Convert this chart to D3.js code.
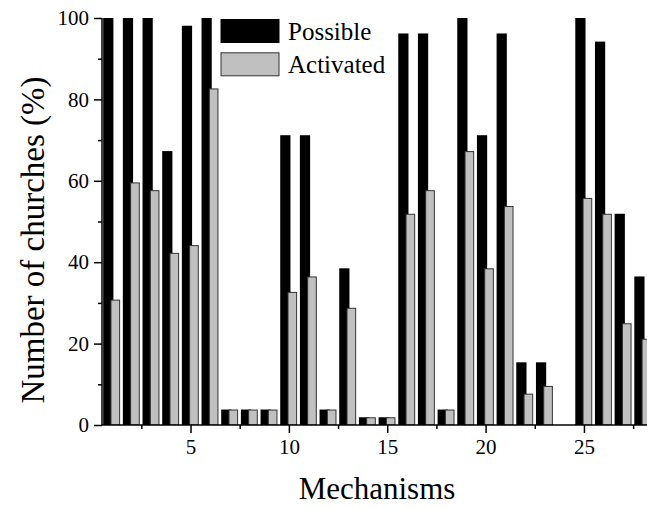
<!DOCTYPE html>
<html>
<head>
<meta charset="utf-8">
<script src="https://cdn.jsdelivr.net/npm/d3@7"></script>
<style>
html,body{margin:0;padding:0;background:#fff;overflow:hidden;}
svg text{font-family:"Liberation Serif","Times New Roman",Times,serif !important;}
</style>
</head>
<body>
<svg id="chart" width="647" height="508"></svg>
<script>
const mechanisms = d3.range(1, 29);
const possible = [100,100,100,67.3,98.1,100,3.8,3.8,3.8,71.2,71.2,3.8,38.5,1.9,1.9,96.2,96.2,3.8,100,71.2,96.2,15.4,15.4,0,100,94.2,51.9,36.5];
const activated = [30.8,59.6,57.7,42.3,44.2,82.7,3.8,3.8,3.8,32.7,36.5,3.8,28.8,1.9,1.9,51.9,57.7,3.8,67.3,38.5,53.8,7.7,9.6,0,55.8,51.9,25.0,21.2];
const seriesNames = ["Possible", "Activated"];
const yTicks = [0,20,40,60,80,100];
const yMinorTicks = [10,30,50,70,90];
const xTicks = [5,10,15,20,25];
const xMinorTicks = [2.5,7.5,12.5,17.5,22.5,27.5];

const serif = '"Liberation Serif","Times New Roman",Times,serif';
const svg = d3.select("#chart");
const x = d3.scaleLinear().domain([0.5, 28.5]).range([102, 652.8]);
const y = d3.scaleLinear().domain([0, 100]).range([425, 18]);

svg.append("defs").append("clipPath").attr("id","plotclip")
  .append("rect").attr("x",102).attr("y",18).attr("width",560).attr("height",407);

const g = svg.append("g").attr("clip-path","url(#plotclip)");

// Possible (black) bars
g.selectAll("rect.pos").data(mechanisms).enter().append("rect")
  .attr("class","pos")
  .attr("x", (d) => x(d - 0.44))
  .attr("width", (d) => x(d + 0.08) - x(d - 0.44))
  .attr("y", (d,i) => y(possible[i]))
  .attr("height", (d,i) => y(0) - y(possible[i]))
  .attr("fill", "#000");

// Activated (grey) bars
g.selectAll("rect.act").data(mechanisms).enter().append("rect")
  .attr("class","act")
  .attr("x", (d) => x(d - 0.07) + 0.5)
  .attr("width", (d) => x(d + 0.42) - x(d - 0.07) - 1)
  .attr("y", (d,i) => y(activated[i]) + 0.5)
  .attr("height", (d,i) => Math.max(0, y(0) - y(activated[i]) - 0.5))
  .attr("fill", (d,i) => activated[i] > 0 ? "#c0c0c0" : "none")
  .attr("stroke", (d,i) => activated[i] > 0 ? "#333" : "none")
  .attr("stroke-width", 1);

// Axes
const yAxis = d3.axisLeft(y).tickValues(yTicks).tickSize(8).tickPadding(5).tickFormat(d3.format("d"));
const yAxisG = svg.append("g").attr("transform","translate(102,0)").call(yAxis);
yAxisG.attr("font-family", serif);
yAxisG.select(".domain").attr("stroke","#000").attr("stroke-width",1.5).attr("d","M0,425V18");
yAxisG.selectAll(".tick line").attr("stroke","#000").attr("stroke-width",1.5);
yAxisG.selectAll(".tick text").style("font-family", serif).attr("font-size",21).attr("fill","#000");
const yMinor = d3.axisLeft(y).tickValues(yMinorTicks).tickSize(4).tickFormat("");
const yMinorG = svg.append("g").attr("transform","translate(102,0)").call(yMinor);
yMinorG.select(".domain").remove();
yMinorG.selectAll(".tick line").attr("stroke","#000").attr("stroke-width",1.5);

const xAxis = d3.axisBottom(x).tickValues(xTicks).tickSize(8).tickPadding(6).tickFormat(d3.format("d"));
const xAxisG = svg.append("g").attr("transform","translate(0,425)").call(xAxis);
xAxisG.attr("font-family", serif);
xAxisG.select(".domain").attr("stroke","#000").attr("stroke-width",1.5).attr("d","M102,0H660");
xAxisG.selectAll(".tick line").attr("stroke","#000").attr("stroke-width",1.5);
xAxisG.selectAll(".tick text").style("font-family", serif).attr("font-size",21).attr("fill","#000");
const xMinor = d3.axisBottom(x).tickValues(xMinorTicks).tickSize(4).tickFormat("");
const xMinorG = svg.append("g").attr("transform","translate(0,425)").call(xMinor);
xMinorG.select(".domain").remove();
xMinorG.selectAll(".tick line").attr("stroke","#000").attr("stroke-width",1.5);

// Axis titles
svg.append("text")
  .attr("x", 377).attr("y", 499)
  .attr("text-anchor","middle")
  .style("font-family", serif)
  .attr("font-size",31).attr("fill","#000")
  .text("Mechanisms");
svg.append("text")
  .attr("transform","translate(44,240) rotate(-90)")
  .attr("text-anchor","middle")
  .style("font-family", serif)
  .attr("font-size",33).attr("fill","#000")
  .text("Number of churches (%)");

// Legend
const legendColors = ["#000", "#c0c0c0"];
const legend = svg.append("g");
seriesNames.forEach((name, i) => {
  const ly = 19.5 + i * 33.3;
  legend.append("rect")
    .attr("x", 221).attr("y", ly)
    .attr("width", 58).attr("height", 23)
    .attr("fill", legendColors[i])
    .attr("stroke", i === 0 ? "#000" : "#333").attr("stroke-width", 1);
  legend.append("text")
    .attr("x", 288).attr("y", ly + 20)
    .style("font-family", serif)
    .attr("font-size", 25).attr("fill","#000")
    .text(name);
});
</script>
</body>
</html>
